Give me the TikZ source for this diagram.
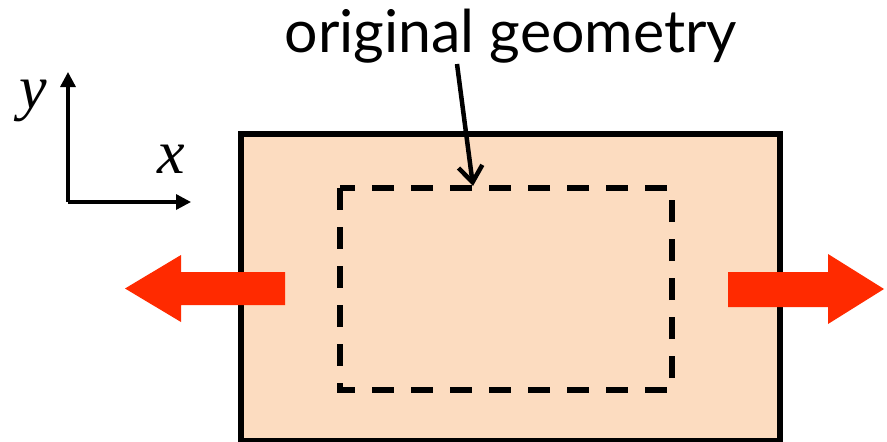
\documentclass[tikz,border=0pt]{standalone}
\usepackage{fontspec}
\setmainfont{Lato}
\newfontfamily\serifrm{Liberation Serif}
\usetikzlibrary{arrows.meta}
\definecolor{peach}{RGB}{252,220,192}
\definecolor{redarrow}{RGB}{255,42,0}
\tikzset{
  axis/.style={line width=3.3pt,-{Triangle[length=15pt,width=15pt]}},
  outerbox/.style={draw=black,line width=5.5pt,fill=peach},
  dashbox/.style={draw=black,line width=5.5pt,dash pattern=on 22pt off 17pt},
  bigarrow/.style={fill=redarrow,draw=none},
  callout/.style={line width=4.5pt,-{Straight Barb[length=16pt,width=24pt,line width=4.5pt]}},
  lbl/.style={inner sep=0pt,anchor=base},
}
\begin{document}
\begin{tikzpicture}[x=1pt,y=-1pt]
\useasboundingbox (0,0) rectangle (887,442);
% outer box
\draw[outerbox] (241,134) rectangle (780,441);
% dashed original geometry
\coordinate (dtl) at (340,188);
\coordinate (dbr) at (672,390);
\draw[dashbox] (dtl) rectangle (dbr);
\coordinate (dtop) at (473,186);
% red arrows
\fill[bigarrow] (285,272) -- (181,272) -- (181,255) -- (125,288.5) -- (181,322) -- (181,305) -- (285,305) -- cycle;
\fill[bigarrow] (728,272) -- (828,272) -- (828,254) -- (884,289) -- (828,324) -- (828,307) -- (728,307) -- cycle;
% axes
\coordinate (o) at (68,202);
\coordinate (ytip) at (68,72);
\coordinate (xtip) at (191,202);
\draw[axis] (o) -- (ytip);
\draw[axis] (o) -- (xtip);
\node[lbl] (ylab) at (33,108) {\serifrm\itshape\fontsize{62}{62}\selectfont y};
\node[lbl] (xlab) at (171,173) {\serifrm\itshape\fontsize{62}{62}\selectfont x};
% label
\node[lbl] (title) at (511,52) {\fontsize{59}{59}\selectfont original geometry};
\coordinate (cstart) at (457,64);
\draw[callout] (cstart) -- (dtop);
\end{tikzpicture}
\end{document}
